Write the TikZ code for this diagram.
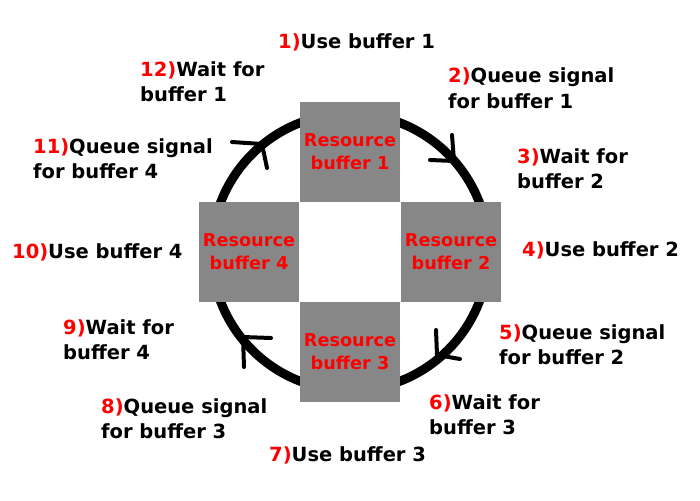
\documentclass[tikz,border=0pt]{standalone}
\usepackage{fontspec}
\setmainfont{DejaVu Sans}
\definecolor{boxgray}{HTML}{878787}
\definecolor{numred}{HTML}{FF0000}
\newcommand\stepnum[1]{\textcolor{numred}{#1}}
\tikzset{
  resbox/.style={fill=boxgray, minimum width=100pt, minimum height=100pt, inner sep=0pt,
    text=numred, font=\fontsize{17.7}{23}\selectfont\bfseries, align=center},
  lbl/.style={anchor=base west, inner sep=0pt, font=\fontsize{19.5}{25}\selectfont\bfseries},
  ring/.style={line width=9pt, draw=black},
  head/.style={line width=4pt, line cap=round, line join=round, draw=black},
}
\begin{document}
\begin{tikzpicture}[x=1pt, y=-1pt]
\useasboundingbox (0,0) rectangle (700,500);
\fill[white] (0,0) rectangle (700,500);
% ring
\coordinate (c) at (350,252);
\draw[ring] (c) circle[radius=138.5];
% resource boxes
\node[resbox] (b1) at (350,152) {Resource\\buffer 1};
\node[resbox] (b2) at (451,252) {Resource\\buffer 2};
\node[resbox] (b3) at (350,352) {Resource\\buffer 3};
\node[resbox] (b4) at (249,252) {Resource\\buffer 4};
% arrowheads (clockwise)
\coordinate (v1) at (454,161); \coordinate (v1a) at (452,135); \coordinate (v1b) at (430,160);
\coordinate (v2) at (437,355); \coordinate (v2a) at (436,330); \coordinate (v2b) at (460,359);
\coordinate (v3) at (243,337); \coordinate (v3a) at (271,338); \coordinate (v3b) at (244,367);
\coordinate (v4) at (262,144); \coordinate (v4a) at (232,142); \coordinate (v4b) at (267,168);
\draw[head] (v1a) -- (v1) -- (v1b);
\draw[head] (v2a) -- (v2) -- (v2b);
\draw[head] (v3a) -- (v3) -- (v3b);
\draw[head] (v4a) -- (v4) -- (v4b);
% step labels
\node[lbl] (s1) at (278,49) {\stepnum{1)}Use buffer 1};
\node[lbl] (s2) at (448,83) {\begin{tabular}[t]{@{}l@{}}\stepnum{2)}Queue signal\\for buffer 1\end{tabular}};
\node[lbl] (s3) at (517,163) {\begin{tabular}[t]{@{}l@{}}\stepnum{3)}Wait for\\buffer 2\end{tabular}};
\node[lbl] (s4) at (522,256) {\stepnum{4)}Use buffer 2};
\node[lbl] (s5) at (499,339) {\begin{tabular}[t]{@{}l@{}}\stepnum{5)}Queue signal\\for buffer 2\end{tabular}};
\node[lbl] (s6) at (429,409) {\begin{tabular}[t]{@{}l@{}}\stepnum{6)}Wait for\\buffer 3\end{tabular}};
\node[lbl] (s7) at (269,461) {\stepnum{7)}Use buffer 3};
\node[lbl] (s8) at (101,413) {\begin{tabular}[t]{@{}l@{}}\stepnum{8)}Queue signal\\for buffer 3\end{tabular}};
\node[lbl] (s9) at (63,334) {\begin{tabular}[t]{@{}l@{}}\stepnum{9)}Wait for\\buffer 4\end{tabular}};
\node[lbl] (s10) at (12,258) {\stepnum{10)}Use buffer 4};
\node[lbl] (s11) at (33,153) {\begin{tabular}[t]{@{}l@{}}\stepnum{11)}Queue signal\\for buffer 4\end{tabular}};
\node[lbl] (s12) at (140,77) {\begin{tabular}[t]{@{}l@{}}\stepnum{12)}Wait for\\buffer 1\end{tabular}};
\end{tikzpicture}
\end{document}
